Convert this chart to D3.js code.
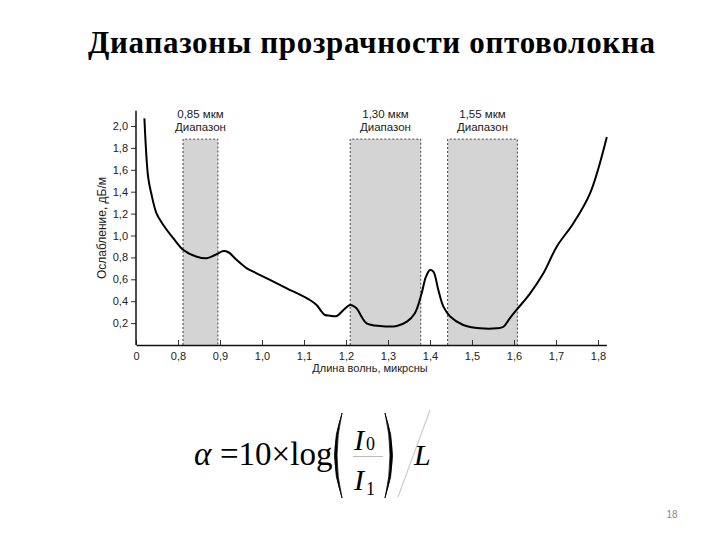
<!DOCTYPE html>
<html><head><meta charset="utf-8">
<script src="https://cdn.jsdelivr.net/npm/d3@7"></script>
<style>body{margin:0;background:#fff}</style>
</head><body>
<svg id="c" width="720" height="540"></svg>
<script>
// Data (x in axis units; the axis is broken: "0" stands at 0.7)
const xTickValues = [0.7,0.8,0.9,1.0,1.1,1.2,1.3,1.4,1.5,1.6,1.7,1.8];
const xTickLabels = ["0","0,8","0,9","1,0","1,1","1,2","1,3","1,4","1,5","1,6","1,7","1,8"];
const yTickValues = [0.2,0.4,0.6,0.8,1.0,1.2,1.4,1.6,1.8,2.0];
const yTickLabels = ["0,2","0,4","0,6","0,8","1,0","1,2","1,4","1,6","1,8","2,0"];
const bandLabels1 = ["0,85 мкм","1,30 мкм","1,55 мкм"];
const bandLabel2 = "Диапазон";
const bandStart = [0.812, 1.210, 1.442];
const bandEnd   = [0.895, 1.378, 1.608];
const bandTop = 1.88;
const curveX = [0.720,0.729,0.736,0.749,0.765,0.789,0.813,0.845,0.868,0.888,0.908,0.920,0.940,0.964,0.987,1.019,1.059,1.114,1.130,1.142,1.150,1.162,1.178,1.194,1.210,1.225,1.237,1.249,1.281,1.321,1.345,1.364,1.380,1.390,1.400,1.408,1.420,1.432,1.448,1.479,1.519,1.559,1.575,1.590,1.606,1.638,1.670,1.702,1.741,1.781,1.821];
const curveY = [2.07,1.53,1.39,1.20,1.096,0.974,0.868,0.806,0.792,0.822,0.858,0.847,0.776,0.700,0.655,0.594,0.518,0.411,0.365,0.304,0.274,0.268,0.265,0.32,0.365,0.335,0.259,0.198,0.174,0.174,0.213,0.29,0.47,0.62,0.685,0.67,0.50,0.35,0.26,0.183,0.152,0.152,0.167,0.244,0.32,0.47,0.655,0.90,1.11,1.385,1.90];
const title = "Диапазоны прозрачности оптоволокна";
const xTitle = "Длина волнь, микрсны";
const yTitle = "Ослабление, дБ/м";

const svg = d3.select("#c");
const x = d3.scaleLinear().domain([0.7,1.82]).range([136,606.4]);
const y = d3.scaleLinear().domain([0,2]).range([345,126]);
const sans = "'Liberation Sans', Arial, sans-serif";
const serif = "'Liberation Serif', 'Times New Roman', serif";

svg.append("text").attr("x",88).attr("y",53)
  .attr("font-family",serif).attr("font-weight","bold").attr("font-size",31)
  .attr("textLength",567).attr("lengthAdjust","spacing").attr("fill","#000").text(title);

// bands
const bands = svg.append("g");
bandStart.forEach((s,i)=>{
  const x0=x(s), x1=x(bandEnd[i]);
  bands.append("rect").attr("x",x0).attr("y",y(bandTop)).attr("width",x1-x0).attr("height",y(0)-y(bandTop))
    .attr("fill","#d4d4d4");
  bands.append("path").attr("d",`M${x0},${y(0)}V${y(bandTop)}H${x1}V${y(0)}`)
    .attr("fill","none").attr("stroke","#444").attr("stroke-width",1).attr("stroke-dasharray","2,2");
  const cx=(x0+x1)/2;
  bands.append("text").attr("x",cx).attr("y",118).attr("text-anchor","middle").attr("font-family",sans)
    .attr("font-size",11.5).attr("fill","#222").text(bandLabels1[i]);
  bands.append("text").attr("x",cx).attr("y",130.5).attr("text-anchor","middle").attr("font-family",sans)
    .attr("font-size",11.5).attr("fill","#222").text(bandLabel2);
});

// axes
const xAxis = d3.axisBottom(x).tickValues(xTickValues).tickFormat((d,i)=>xTickLabels[i]).tickSizeInner(-5).tickSizeOuter(0).tickPadding(7);
const gx = svg.append("g").attr("transform",`translate(0,${y(0)})`).call(xAxis);
gx.select(".domain").attr("stroke","#111").attr("stroke-width",1.5);
gx.selectAll(".tick line").attr("stroke","#333");
gx.selectAll("text").attr("font-family",sans).attr("font-size",11).attr("fill","#222");

const yAxis = d3.axisLeft(y).tickValues(yTickValues).tickFormat((d,i)=>yTickLabels[i]).tickSizeInner(5).tickSizeOuter(0).tickPadding(3);
const gy = svg.append("g").attr("transform",`translate(${x(0.7)},0)`).call(yAxis);
gy.select(".domain").remove();
gy.append("line").attr("x1",0).attr("x2",0).attr("y1",y(0)).attr("y2",y(2.14)).attr("stroke","#111").attr("stroke-width",1.5);
gy.selectAll(".tick line").attr("stroke","#333");
gy.selectAll("text").attr("font-family",sans).attr("font-size",11).attr("fill","#222");

svg.append("text").attr("x",370).attr("y",372).attr("text-anchor","middle").attr("font-family",sans)
  .attr("font-size",11).attr("fill","#222").text(xTitle);
svg.append("text").attr("transform","translate(106,228) rotate(-90)").attr("text-anchor","middle").attr("font-family",sans)
  .attr("font-size",12).attr("fill","#222").text(yTitle);

// curve
const pts = curveX.map((d,i)=>[d,curveY[i]]);
svg.append("path").datum(pts).attr("d",d3.line().x(d=>x(d[0])).y(d=>y(d[1])).curve(d3.curveCatmullRom.alpha(0.5)))
  .attr("fill","none").attr("stroke","#000").attr("stroke-width",2);

// formula
const f = svg.append("g").attr("font-family",serif).attr("fill","#000");
f.append("text").attr("x",194).attr("y",465).attr("font-size",33).attr("font-style","italic").text("α");
f.append("text").attr("x",220).attr("y",465).attr("font-size",33).text("=10×log");
f.append("path").attr("d","M342,413 Q327,455.5 342,498 Q332,455.5 342,413 Z").attr("stroke","#000").attr("stroke-width",0.8);
f.append("path").attr("d","M385,413 Q400,455.5 385,498 Q395,455.5 385,413 Z").attr("stroke","#000").attr("stroke-width",0.8);
f.append("text").attr("x",354).attr("y",450).attr("font-size",30).attr("font-style","italic").text("I");
f.append("text").attr("x",366).attr("y",450).attr("font-size",18).text("0");
f.append("line").attr("x1",353).attr("x2",383).attr("y1",456.5).attr("y2",456.5).attr("stroke","#bbb").attr("stroke-width",1);
f.append("text").attr("x",354).attr("y",490).attr("font-size",30).attr("font-style","italic").text("I");
f.append("text").attr("x",366).attr("y",495).attr("font-size",18).text("1");
f.append("line").attr("x1",398).attr("y1",497).attr("x2",430).attr("y2",410).attr("stroke","#ccc").attr("stroke-width",1.2);
f.append("text").attr("x",414).attr("y",465).attr("font-size",30).attr("font-style","italic").text("L");

svg.append("text").attr("x",672).attr("y",518).attr("text-anchor","middle").attr("font-family",sans)
  .attr("font-size",10).attr("fill","#888").text("18");
</script>
</body></html>
